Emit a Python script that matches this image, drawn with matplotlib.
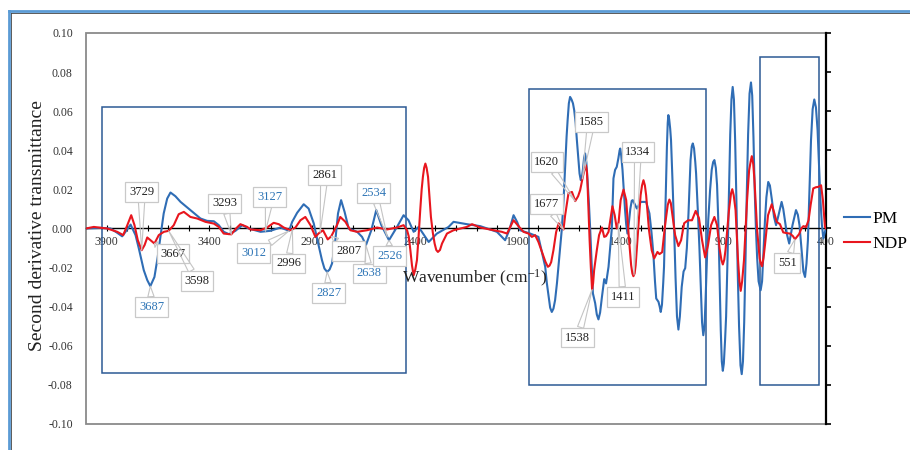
import matplotlib
matplotlib.use("Agg")
import matplotlib.pyplot as plt
import numpy as np
from matplotlib.patches import Rectangle
from matplotlib.lines import Line2D

# second derivative spectra (wavenumber in cm-1, value)
pm_wn = [4000, 3929, 3881, 3851, 3824, 3803, 3783, 3759, 3743, 3719, 3702, 3687, 3667, 3651,
         3638, 3622, 3605, 3589, 3565, 3540, 3492, 3443, 3411, 3378, 3354, 3330, 3305, 3273,
         3240, 3208, 3151, 3103, 3054, 3012, 2997, 2973, 2941, 2917, 2892, 2876, 2852, 2840,
         2827, 2815, 2803, 2787, 2774, 2759, 2742, 2722, 2681, 2657, 2638, 2612, 2588, 2563,
         2526, 2487, 2455, 2431, 2406, 2382, 2333, 2293, 2236, 2212, 2147, 2082, 2001, 1961,
         1941, 1920, 1902, 1888, 1839, 1799, 1766, 1758, 1750, 1742, 1734, 1726, 1718, 1709,
         1697, 1685, 1677, 1669, 1662, 1657, 1651, 1645, 1638, 1631, 1625, 1618, 1612, 1605,
         1599, 1593, 1588, 1583, 1577, 1572, 1566, 1560, 1553, 1547, 1540, 1534, 1523, 1515,
         1507, 1499, 1490, 1479, 1470, 1458, 1442, 1434, 1426, 1418, 1410, 1404, 1401, 1396,
         1390, 1385, 1378, 1372, 1366, 1360, 1352, 1345, 1340, 1320, 1301, 1275, 1259, 1249,
         1240, 1232, 1226, 1215, 1209, 1204, 1198, 1192, 1188, 1181, 1174, 1170, 1167, 1163,
         1158, 1154, 1147, 1139, 1132, 1125, 1118, 1111, 1102, 1093, 1085, 1077, 1069, 1059,
         1053, 1048, 1042, 1036, 1032, 1024, 1016, 1009, 1003, 997, 991, 986, 980, 973, 964,
         956, 949, 943, 936, 930, 924, 918, 912, 907, 902, 897, 891, 886, 879, 872, 866, 860,
         854, 848, 842, 836, 830, 823, 816, 810, 804, 798, 792, 786, 779, 772, 765, 759, 753,
         747, 741, 735, 728, 718, 711, 704, 697, 690, 681, 673, 663, 653, 643, 631, 616, 608,
         600, 590, 579, 571, 563, 546, 537, 529, 517, 510, 502, 495, 488, 481, 473, 465, 457,
         449, 441, 434, 427, 420, 413, 406, 400]
pm_val = [0.0, 0.0003, 0.0, -0.002, -0.004, -0.001, 0.002, -0.0034, -0.0102, -0.0213, -0.0264,
          -0.0295, -0.0248, -0.0145, -0.0043, 0.0077, 0.0153, 0.0184, 0.0165, 0.0136, 0.0094,
          0.0051, 0.0039, 0.0037, 0.0017, -0.0017, -0.0029, -0.0012, 0.0017, 0.0, -0.0017,
          -0.0012, 0.0005, -0.0012, 0.0034, 0.008, 0.0124, 0.0102, 0.0026, -0.0051, -0.0162,
          -0.0205, -0.0222, -0.021, -0.0179, -0.006, 0.0077, 0.0145, 0.0085, 0.0, -0.0017,
          -0.0043, -0.0085, -0.0009, 0.0094, 0.0017, -0.006, 0.0008, 0.0068, 0.0042, -0.0017,
          0.0008, -0.0069, -0.0026, 0.0008, 0.0034, 0.0022, 0.0012, -0.0017, -0.006, -0.0009,
          0.0068, 0.0032, -0.0009, -0.0026, -0.0043, -0.0196, -0.028, -0.0341, -0.0405,
          -0.0427, -0.041, -0.0367, -0.0281, -0.014, 0.0, 0.014, 0.0315, 0.047, 0.0554, 0.064,
          0.0673, 0.066, 0.064, 0.0605, 0.054, 0.0452, 0.036, 0.0281, 0.0247, 0.026, 0.0298,
          0.036, 0.0384, 0.034, 0.0247, 0.012, -0.0009, -0.018, -0.0332, -0.0382, -0.044,
          -0.0465, -0.043, -0.035, -0.0259, -0.0281, -0.0196, 0.0, 0.0256, 0.03, 0.0315, 0.036,
          0.04, 0.0409, 0.037, 0.03, 0.0213, 0.01, 0.002, -0.0026, 0.002, 0.01, 0.0142, 0.0145,
          0.0102, 0.0136, 0.0136, 0.0077, -0.002, -0.0128, -0.027, -0.0358, -0.0375, -0.04,
          -0.0427, -0.039, -0.028, -0.0196, 0.01, 0.0417, 0.054, 0.058, 0.056, 0.051, 0.0452,
          0.025, 0.0, -0.025, -0.045, -0.0517, -0.045, -0.0299, -0.022, -0.0203, -0.01, 0.0077,
          0.035, 0.042, 0.0435, 0.041, 0.034, 0.0281, 0.01, -0.0094, -0.03, -0.048, -0.0546,
          -0.05, -0.0367, -0.018, 0.004, 0.0196, 0.03, 0.034, 0.035, 0.031, 0.0222, 0.004,
          -0.025, -0.052, -0.068, -0.0728, -0.069, -0.057, -0.045, -0.015, 0.02, 0.048, 0.066,
          0.0724, 0.066, 0.045, 0.015, -0.02, -0.05, -0.07, -0.0745, -0.068, -0.048, -0.018,
          0.015, 0.048, 0.069, 0.0747, 0.068, 0.047, 0.02, 0.0, -0.015, -0.027, -0.0316, -0.027,
          -0.012, 0.004, 0.016, 0.0238, 0.022, 0.0145, 0.006, 0.0017, 0.0068, 0.0136, 0.01,
          0.0042, -0.003, -0.0077, -0.003, 0.0017, 0.0094, 0.007, 0.0017, -0.0137, -0.022,
          -0.0248, -0.018, -0.006, 0.018, 0.0451, 0.061, 0.066, 0.062, 0.0503, 0.033, 0.0145,
          0.002, -0.0051, -0.002, 0.0]

ndp_wn = [4000, 3962, 3897, 3848, 3819, 3799, 3780, 3764, 3748, 3729, 3715, 3702, 3686, 3667,
          3646, 3621, 3598, 3573, 3549, 3524, 3492, 3459, 3419, 3378, 3354, 3330, 3293, 3270,
          3249, 3216, 3200, 3151, 3119, 3087, 3062, 3038, 3006, 2981, 2957, 2933, 2908, 2884,
          2868, 2847, 2824, 2807, 2779, 2763, 2738, 2714, 2681, 2633, 2584, 2536, 2487, 2455,
          2438, 2430, 2422, 2414, 2406, 2398, 2390, 2382, 2374, 2367, 2361, 2355, 2349, 2343,
          2336, 2329, 2322, 2313, 2304, 2296, 2288, 2278, 2268, 2244, 2212, 2147, 2122, 2082,
          2017, 1977, 1952, 1936, 1920, 1896, 1872, 1847, 1831, 1815, 1799, 1776, 1765, 1753,
          1745, 1737, 1726, 1713, 1701, 1691, 1677, 1669, 1653, 1636, 1620, 1606, 1596, 1583,
          1575, 1568, 1563, 1559, 1555, 1550, 1544, 1538, 1533, 1528, 1515, 1504, 1490, 1479,
          1470, 1458, 1448, 1439, 1428, 1418, 1409, 1399, 1385, 1372, 1360, 1348, 1342, 1337,
          1331, 1326, 1314, 1302, 1295, 1288, 1281, 1275, 1261, 1248, 1236, 1220, 1210, 1197,
          1183, 1170, 1162, 1155, 1149, 1134, 1118, 1105, 1090, 1071, 1052, 1034, 1018, 1003,
          988, 974, 959, 943, 930, 918, 909, 902, 895, 889, 872, 862, 856, 849, 840, 828, 821,
          815, 808, 799, 784, 774, 767, 761, 754, 748, 735, 723, 717, 711, 704, 697, 682, 664,
          650, 640, 624, 608, 590, 575, 561, 551, 531, 519, 510, 497, 485, 475, 462, 449, 437,
          424, 415, 405, 400]
ndp_val = [0.0, 0.0008, 0.0, -0.0017, -0.0034, 0.0017, 0.0068, 0.0017, -0.006, -0.0111,
           -0.0085, -0.0046, -0.006, -0.0077, -0.0034, -0.0017, -0.0012, 0.0017, 0.0073,
           0.0085, 0.0059, 0.0051, 0.0034, 0.0025, 0.0008, -0.0026, -0.003, 0.0, 0.0022,
           0.0008, -0.0005, -0.0009, 0.0005, 0.0029, 0.0022, 0.0005, -0.0009, 0.0005, 0.0042,
           0.0059, 0.0017, -0.0043, -0.0025, -0.0009, -0.0056, -0.004, 0.0017, 0.0059, 0.0034,
           -0.0009, -0.0017, -0.0009, 0.0005, -0.0005, 0.0005, 0.0017, -0.0009, -0.004,
           -0.0111, -0.019, -0.0239, -0.021, -0.0162, -0.004, 0.0094, 0.02, 0.0264, 0.031,
           0.0332, 0.031, 0.0264, 0.016, 0.0059, -0.002, -0.0077, -0.011, -0.012, -0.011,
           -0.0077, -0.0026, -0.0009, 0.0008, 0.0022, 0.0005, -0.0009, -0.0017, -0.0026, 0.0008,
           0.0042, 0.0012, -0.0017, -0.0026, -0.0043, -0.0034, -0.0069, -0.0137, -0.017,
           -0.0196, -0.019, -0.0172, -0.0111, -0.0019, 0.0026, 0.0012, -0.0005, 0.0068, 0.0179,
           0.0187, 0.014, 0.0165, 0.0196, 0.0264, 0.03, 0.0324, 0.029, 0.0196, 0.008, -0.006,
           -0.02, -0.0312, -0.028, -0.0213, -0.0111, -0.0034, 0.0005, -0.0043, -0.0039,
           -0.0017, 0.0053, 0.0114, 0.0068, 0.0, 0.0032, 0.0145, 0.0199, 0.0145, -0.0034,
           -0.0188, -0.023, -0.0244, -0.023, -0.0188, -0.0009, 0.017, 0.022, 0.0247, 0.022,
           0.017, -0.0009, -0.0111, -0.0153, -0.012, -0.0131, -0.0121, 0.0017, 0.012, 0.0148,
           0.013, 0.0083, -0.0034, -0.009, -0.006, 0.0027, 0.0042, 0.0042, 0.009, 0.0053,
           -0.006, -0.0148, -0.0085, 0.0017, 0.0059, 0.0017, -0.0101, -0.016, -0.0184, -0.016,
           -0.0111, 0.0094, 0.018, 0.0201, 0.017, 0.0094, -0.0162, -0.027, -0.0319, -0.027,
           -0.0162, 0.0145, 0.0298, 0.034, 0.037, 0.033, 0.0247, -0.0009, -0.0152, -0.018,
           -0.0193, -0.015, -0.0085, 0.0068, 0.0124, 0.0073, 0.0034, 0.0022, -0.002, -0.0024,
           -0.0026, -0.0039, -0.0055, -0.0029, 0.0002, 0.0012, 0.0007, 0.0042, 0.0119, 0.0205,
           0.0211, 0.0213, 0.0221, 0.0145, 0.0008, 0.0]

# band assignments marked on the curves
band_labels = ["3729", "3687", "3667", "3598", "3293", "3127", "3012", "2996", "2861", "2827",
               "2807", "2638", "2534", "2526", "1677", "1620", "1585", "1538", "1411", "1334",
               "551"]
band_series = ["NDP", "PM", "NDP", "NDP", "NDP", "PM", "PM", "NDP", "NDP", "PM",
               "NDP", "PM", "PM", "PM", "NDP", "NDP", "NDP", "NDP", "NDP", "NDP", "NDP"]

xticks = [3900, 3400, 2900, 2400, 1900, 1400, 900, 400]

# where each callout box sits (wavenumber, value)
box_pos = [(3730, 0.0187), (3681, -0.0401), (3576, -0.0128), (3459, -0.0268),
           (3325, 0.0128), (3106, 0.0162), (3184, -0.0125), (3014, -0.0179),
           (2840, 0.0273), (2819, -0.0329), (2722, -0.0115), (2622, -0.023),
           (2601, 0.0182), (2523, -0.014), (1761, 0.0124), (1758, 0.0341),
           (1542, 0.0545), (1609, -0.0558), (1388, -0.035), (1315, 0.0392),
           (588, -0.0176)]

plt.rcParams["font.family"] = ["Liberation Serif", "DejaVu Serif"]
plt.rcParams["mathtext.default"] = "regular"
plt.rcParams["axes.unicode_minus"] = False

blue = "#2f6db5"
red = "#e8161e"
rect_col = "#2c5a94"

fig = plt.figure(figsize=(9.1, 4.5), dpi=100)
ax = fig.add_axes([0.0945, 0.0578, 0.8132, 0.8689])

ax.plot(pm_wn, pm_val, color=blue, lw=1.5, label="PM", zorder=3)
ax.plot(ndp_wn, ndp_val, color=red, lw=1.5, label="NDP", zorder=4)

ax.set_xlim(4000, 400)
ax.set_ylim(-0.1, 0.1)
ax.set_xticks(xticks)
ax.set_xticks(np.arange(500, 4000, 100), minor=True)
ax.set_yticks(np.arange(-0.10, 0.101, 0.02))
ax.yaxis.set_major_formatter(plt.FormatStrFormatter("%.2f"))

# x axis runs along zero, value axis sits at 400 on the right
ax.spines["bottom"].set_position(("data", 0))
ax.spines["bottom"].set_color("black")
ax.spines["bottom"].set_linewidth(1.0)
ax.spines["top"].set_visible(False)
ax.spines["left"].set_visible(False)
ax.spines["right"].set_color("black")
ax.spines["right"].set_linewidth(1.6)
ax.add_patch(Rectangle((0, 0), 1, 1, transform=ax.transAxes, fill=False,
                       ec="#8a8a8a", lw=1.3, clip_on=False, zorder=0.5))

ax.tick_params(axis="x", which="both", direction="inout", length=5, width=0.8,
               labelsize=8.5, labelcolor="#333333", pad=3)
ax.tick_params(axis="y", left=False, right=True, labelleft=True, labelright=False,
               direction="out", length=3.5, width=1.2, labelsize=8.5,
               labelcolor="#333333", pad=6)

# highlighted regions
for x0, x1, y0, y1 in [(3924, 2444, -0.0737, 0.0619),
                       (1847, 983, -0.0803, 0.0711),
                       (720, 434, -0.0803, 0.0875)]:
    ax.add_patch(Rectangle((x0, y0), x1 - x0, y1 - y0, fill=False,
                           ec=rect_col, lw=1.1, zorder=2))

series = {"PM": (np.array(pm_wn[::-1]), np.array(pm_val[::-1])),
          "NDP": (np.array(ndp_wn[::-1]), np.array(ndp_val[::-1]))}
for lab, ser, (bx, by) in zip(band_labels, band_series, box_pos):
    wn, val = series[ser]
    x = float(lab)
    y = np.interp(x, wn, val)
    ax.annotate(lab, xy=(x, y), xytext=(bx, by), ha="center", va="center",
                fontsize=9, color="#2e75b6" if ser == "PM" else "#222222",
                bbox=dict(boxstyle="square,pad=0.3", fc="white", ec="#c9c9c9", lw=0.9),
                arrowprops=dict(arrowstyle="wedge,tail_width=0.5", fc="none",
                                ec="#c4c4c4", lw=0.8, shrinkA=0, shrinkB=0),
                zorder=6, annotation_clip=False)

ax.text(2110, -0.0255, "Wavenumber (cm$^{-1}$)", ha="center", va="center",
        fontsize=12.5, color="#222222", zorder=5)
fig.text(38 / 910, 1 - 226 / 450, "Second derivative transmittance", rotation=90,
         ha="center", va="center", fontsize=14, color="#222222")

fig.legend(loc="center left", bbox_to_anchor=(0.927, 0.4856), frameon=False,
           fontsize=12.5, handlelength=1.5, handletextpad=0.15, labelspacing=0.5,
           borderpad=0, borderaxespad=0)

# outer chart border
fig.add_artist(Line2D([0.0099, 1.0], [0.9756, 0.9756], color="#5b9bd5", lw=2,
                      transform=fig.transFigure))
fig.add_artist(Line2D([0.0099, 0.0099], [0.0, 0.9756], color="#5b9bd5", lw=2,
                      transform=fig.transFigure))
fig.add_artist(Line2D([0.0118, 1.0], [0.9718, 0.9718], color="#404040", lw=0.6,
                      transform=fig.transFigure))
fig.add_artist(Line2D([0.0118, 0.0118], [0.0, 0.9718], color="#404040", lw=0.6,
                      transform=fig.transFigure))

fig.savefig("out.png", dpi=100)
